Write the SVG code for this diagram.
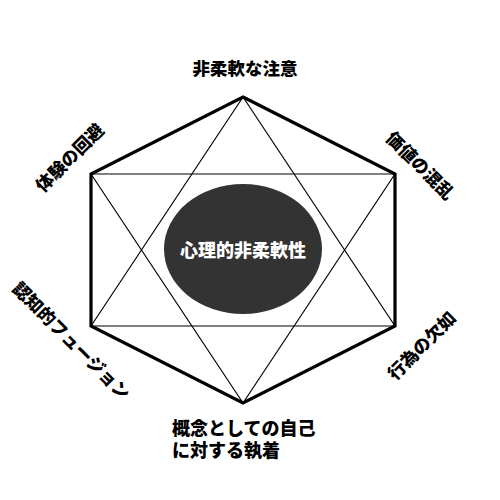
<svg xmlns="http://www.w3.org/2000/svg" width="500" height="500" viewBox="0 0 500 500">
<style>
.lbl{font-family:"Noto Sans CJK JP","Noto Sans",sans-serif;font-weight:900;font-size:17.5px;fill:#000}
.thin{stroke:#000;stroke-width:1.2;fill:none}
.hex{stroke:#000;stroke-width:3.2;fill:none;stroke-linejoin:miter}
</style>
<rect width="500" height="500" fill="#fff"/>
<g id="connectors">
<line class="thin" x1="91" y1="174" x2="395" y2="174"/>
<line class="thin" x1="91" y1="326" x2="395" y2="326"/>
<line class="thin" x1="243" y1="97" x2="91" y2="326"/>
<line class="thin" x1="243" y1="97" x2="395" y2="326"/>
<line class="thin" x1="243" y1="403" x2="91" y2="174"/>
<line class="thin" x1="243" y1="403" x2="395" y2="174"/>
<polygon class="hex" points="243,97 395,174 395,326 243,403 91,326 91,174"/>
</g>
<g id="center">
<ellipse cx="243" cy="249" rx="79" ry="65" fill="#333"/>
<text class="lbl" x="243" y="249" text-anchor="middle" dominant-baseline="central" style="fill:#fff;font-size:18px">心理的非柔軟性</text>
</g>
<g id="top"><text class="lbl" x="245" y="67" text-anchor="middle" dominant-baseline="central">非柔軟な注意</text></g>
<g id="upper-left"><text class="lbl" text-anchor="middle" dominant-baseline="central" transform="translate(69,157) rotate(-45)">体験の回避</text></g>
<g id="upper-right"><text class="lbl" text-anchor="middle" dominant-baseline="central" transform="translate(421,165) rotate(45)">価値の混乱</text></g>
<g id="lower-left"><text class="lbl" text-anchor="middle" dominant-baseline="central" transform="translate(72,340) rotate(45)">認知的フュージョン</text></g>
<g id="lower-right"><text class="lbl" text-anchor="middle" dominant-baseline="central" transform="translate(421,345) rotate(-45)">行為の欠如</text></g>
<g id="bottom">
<text class="lbl" dominant-baseline="central" style="font-size:18px"><tspan x="172" y="427">概念としての自己</tspan><tspan x="172" y="448.5">に対する執着</tspan></text>
</g>
</svg>
